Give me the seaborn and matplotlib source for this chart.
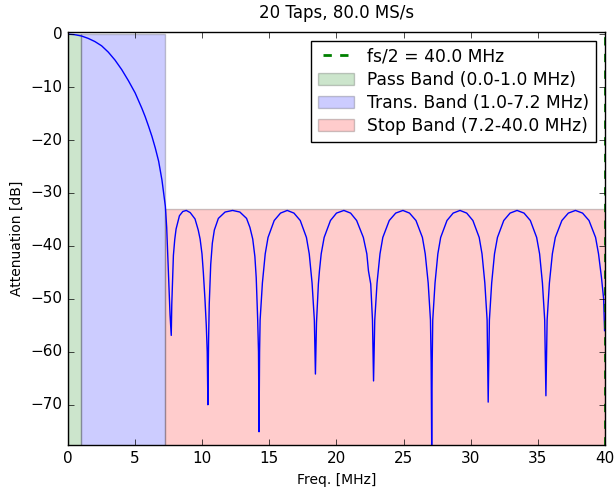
import matplotlib
matplotlib.use('Agg')
import matplotlib.pyplot as plt
from matplotlib.lines import Line2D
import pandas as pd
import seaborn as sns

plt.style.use('classic')

# response, lobe by lobe
freq_mhz = [
    # main lobe
    0.0, 0.5, 1.0, 1.5, 2.0, 2.5, 3.0, 3.5, 4.0, 4.5, 5.0, 5.5, 5.75, 6.0,
    6.25, 6.5, 6.75, 7.0, 7.1, 7.2, 7.25, 7.3, 7.35, 7.48, 7.6, 7.69,
    # lobe 1
    7.73, 7.78, 7.85, 7.95, 8.05, 8.3, 8.55, 8.81, 9.1, 9.46, 9.7, 9.84,
    9.98, 10.08, 10.2, 10.3, 10.37, 10.42,
    # lobe 2
    10.47, 10.52, 10.63, 10.75, 10.9, 11.2, 11.7, 12.26, 12.8, 13.3, 13.55,
    13.76, 13.92, 14.02, 14.13, 14.19, 14.23,
    # lobe 3
    14.27, 14.31, 14.48, 14.69, 14.9, 15.36, 15.83, 16.33, 16.83, 17.3,
    17.76, 17.97, 18.18, 18.35, 18.43,
    # lobe 4
    18.51, 18.65, 18.73, 18.86, 19.08, 19.55, 20.0, 20.55, 21.05, 21.5,
    22.0, 22.26, 22.38, 22.55, 22.68, 22.76,
    # lobe 5
    22.85, 23.02, 23.24, 23.45, 23.93, 24.41, 24.95, 25.44, 25.92, 26.4,
    26.61, 26.83, 27.0, 27.05, 27.09,
    # lobe 6
    27.13, 27.17, 27.34, 27.55, 27.76, 28.23, 28.69, 29.2, 29.7, 30.16,
    30.63, 30.84, 31.05, 31.22, 31.3,
    # lobe 7
    31.39, 31.56, 31.77, 31.99, 32.46, 32.93, 33.45, 33.97, 34.44, 34.91,
    35.13, 35.34, 35.51, 35.6,
    # lobe 8
    35.69, 35.86, 36.08, 36.3, 36.79, 37.27, 37.8, 38.33, 38.81, 39.3,
    39.52, 39.74, 39.9, 39.97,
]
atten_db = [
    0.0, -0.1, -0.35, -0.8, -1.4, -2.2, -3.4, -4.9, -6.7, -8.8, -11.1, -14.0,
    -15.6, -17.4, -19.3, -21.5, -24.0, -27.6, -29.5, -31.3, -32.5, -34.5,
    -36.5, -45.0, -53.0, -56.9,
    -51.0, -47.0, -41.8, -38.8, -36.8, -34.3, -33.5, -33.3, -33.7, -34.9,
    -37.0, -38.7, -41.5, -45.0, -50.0, -55.0, -60.0, -70.0,
    -58.0, -51.0, -43.5, -39.5, -37.0, -34.8, -33.6, -33.3, -33.6, -34.8,
    -36.5, -38.7, -42.0, -46.0, -54.0, -60.0, -75.1,
    -60.0, -54.0, -47.0, -41.5, -38.4, -35.2, -33.8, -33.3, -33.8, -35.2,
    -38.4, -41.5, -47.0, -54.0, -64.2,
    -54.5, -47.2, -44.7, -41.5, -38.4, -35.2, -33.8, -33.3, -33.8, -35.2,
    -38.4, -41.5, -44.7, -47.2, -54.0, -65.5,
    -54.0, -47.0, -41.5, -38.4, -35.2, -33.8, -33.3, -33.8, -35.2, -38.4,
    -41.5, -47.0, -54.0, -62.0, -77.6,
    -62.0, -54.0, -47.0, -41.5, -38.4, -35.2, -33.8, -33.3, -33.8, -35.2,
    -38.4, -41.5, -47.0, -54.0, -69.5,
    -54.0, -47.0, -41.5, -38.4, -35.2, -33.8, -33.3, -33.8, -35.2, -38.4,
    -41.5, -47.0, -54.0, -68.3,
    -54.0, -47.0, -41.5, -38.4, -35.2, -33.8, -33.3, -33.8, -35.2, -38.4,
    -41.5, -46.0, -50.0, -56.0,
]

fs_half = 40.0
pass_edge = 1.0
stop_edge = 7.2
stop_atten = -33.1
y_min = -77.6

df = pd.DataFrame({'freq': freq_mhz, 'atten': atten_db})

fig, ax = plt.subplots(figsize=(6.15, 4.88), dpi=100)
fig.patch.set_facecolor('white')
fig.subplots_adjust(left=0.1106, right=0.9837, top=0.9344, bottom=0.0881)

sns.lineplot(data=df, x='freq', y='atten', ax=ax, color='b', lw=1,
             sort=False, estimator=None, legend=False)

fill_kw = dict(alpha=0.2, edgecolor='k', linewidth=1)
ax.fill_between([0, pass_edge], -100, 0, facecolor='g', **fill_kw)
ax.fill_between([pass_edge, stop_edge], -100, 0, facecolor='b', **fill_kw)
ax.fill_between([stop_edge, fs_half], -100, stop_atten, facecolor='r', **fill_kw)
ax.axvline(fs_half, color='g', ls='--', lw=2)

handles = [
    Line2D([], [], color='g', ls='--', lw=2),
    plt.Rectangle((0, 0), 1, 1, facecolor='g', **fill_kw),
    plt.Rectangle((0, 0), 1, 1, facecolor='b', **fill_kw),
    plt.Rectangle((0, 0), 1, 1, facecolor='r', **fill_kw),
]
labels = [
    'fs/2 = %.1f MHz' % fs_half,
    'Pass Band (0.0-%.1f MHz)' % pass_edge,
    'Trans. Band (%.1f-%.1f MHz)' % (pass_edge, stop_edge),
    'Stop Band (%.1f-%.1f MHz)' % (stop_edge, fs_half),
]
ax.legend(handles, labels, loc='upper right', fontsize=12.3,
          handlelength=2.1, handletextpad=0.8, labelspacing=0.3,
          borderpad=0.4, borderaxespad=0.5)

ax.set_xlim(0, fs_half)
ax.set_ylim(y_min, 0.4)
ax.set_xticks(range(0, 41, 5))
ax.set_yticks(range(-70, 1, 10))
ax.tick_params(labelsize=11)
ax.set_xlabel('Freq. [MHz]', fontsize=10)
ax.set_ylabel('Attenuation [dB]', fontsize=10)
ax.set_title('20 Taps, 80.0 MS/s', fontsize=12, pad=10)

fig.savefig('out.png', dpi=100, facecolor='white')
